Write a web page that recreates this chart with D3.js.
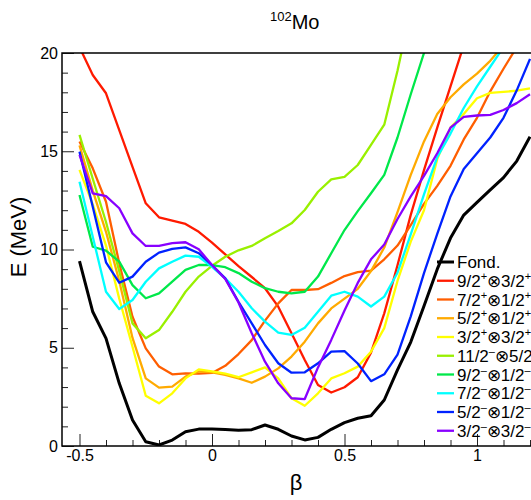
<!DOCTYPE html>
<html><head><meta charset="utf-8">
<script src="https://cdn.jsdelivr.net/npm/d3@7"></script>
<style>html,body{margin:0;padding:0;background:#fff;}svg{display:block;font-family:"Liberation Sans",Arial,sans-serif;}</style>
</head><body>
<script>
// ---- data ----
const beta = [-0.5,-0.45,-0.4,-0.35,-0.3,-0.25,-0.2,-0.15,-0.1,-0.05,0,0.05,0.1,0.15,0.2,0.25,0.3,0.35,0.4,0.45,0.5,0.55,0.6,0.65,0.7,0.75,0.8,0.85,0.9,0.95,1.0,1.05,1.1,1.15,1.2];
const fond = [9.41,6.83,5.48,3.19,1.32,0.22,0.05,0.30,0.73,0.86,0.86,0.84,0.80,0.83,1.07,0.85,0.51,0.31,0.44,0.85,1.19,1.41,1.54,2.34,3.87,5.29,7.13,9.00,10.58,11.75,12.40,13.03,13.66,14.50,15.74];
const e92p32p = [20.3,18.88,17.95,16.08,14.21,12.35,11.64,11.47,11.30,10.90,10.35,9.75,9.15,8.60,8.03,7.09,5.74,4.38,3.10,2.72,2.99,3.50,4.75,6.75,9.20,11.76,14.04,16.20,18.30,20.40];
const e72p12p = [15.50,14.13,12.43,9.30,6.58,4.97,4.04,3.65,3.70,3.68,3.72,4.08,4.68,5.39,6.38,7.26,7.94,7.94,7.98,8.30,8.65,8.85,8.92,9.50,10.20,11.24,12.32,13.24,14.26,15.60,16.70,18.05,19.20,20.30];
const e52p12p = [15.30,13.00,10.90,8.40,5.50,3.44,2.97,3.02,3.53,3.80,3.75,3.62,3.44,3.22,3.53,3.95,4.55,5.31,6.24,7.00,7.50,8.00,8.90,10.10,11.90,13.80,15.50,16.90,17.75,18.40,18.95,19.60,20.40];
const e32p32p = [14.05,12.30,10.20,7.50,5.05,2.56,2.17,2.68,3.44,3.90,3.80,3.68,3.50,3.75,4.00,3.44,2.43,2.05,2.68,3.44,3.70,4.04,4.80,6.00,8.40,10.40,12.00,14.60,16.20,16.90,17.70,17.97,18.02,18.08,18.20];
const e112m52m = [15.83,13.60,11.40,8.90,6.24,5.48,5.90,6.83,7.85,8.62,9.17,9.63,9.96,10.18,10.57,10.94,11.33,12.01,12.94,13.57,13.70,14.30,15.32,16.35,19.10,22.20];
const e92m12m = [12.77,10.14,9.94,9.38,8.19,7.52,7.77,8.36,8.96,9.21,9.21,9.10,8.80,8.36,8.03,7.85,7.77,7.85,8.62,9.81,10.99,11.95,12.86,13.80,15.70,17.90,20.00,22.00];
const e72m12m = [13.45,10.65,7.85,6.97,7.43,8.36,9.04,9.38,9.69,9.63,9.12,8.53,7.85,7.01,6.33,5.77,5.65,6.02,6.83,7.65,7.85,7.60,7.10,7.60,8.82,10.77,12.80,14.70,15.90,17.20,18.30,19.30,20.30];
const e52m12m = [14.98,12.18,9.35,8.31,8.62,9.38,9.84,10.03,10.11,9.81,9.21,8.53,7.34,6.24,5.14,4.21,3.73,3.75,4.21,4.80,4.83,4.20,3.30,3.65,4.65,6.60,8.80,10.80,12.70,14.10,14.90,15.70,16.70,18.10,19.70];
const e32m32m = [14.81,12.86,12.72,12.10,10.82,10.18,10.18,10.32,10.37,10.01,9.21,8.50,7.30,5.74,4.29,3.19,2.43,2.39,4.00,5.40,6.90,8.30,9.50,10.25,11.55,12.70,13.75,14.90,16.20,16.75,16.82,16.85,17.10,17.45,17.90];

const seriesValues = [fond,e92p32p,e72p12p,e52p12p,e32p32p,e112m52m,e92m12m,e72m12m,e52m12m,e32m32m];
const seriesColors = ["#000000","#ff1a00","#ff5e00","#ffaa00","#ffff00","#99f000","#00e84a","#00ffff","#0022ff","#8800ff"];
// legend labels: [j1, parity1, j2, parity2]; first entry is plain text
const legendLabels = [["Fond."],["9/2","+","3/2","+"],["7/2","+","1/2","+"],["5/2","+","1/2","+"],["3/2","+","3/2","+"],["11/2","-","5/2","-"],["9/2","-","1/2","-"],["7/2","-","1/2","-"],["5/2","-","1/2","-"],["3/2","-","3/2","-"]];
const xMajorTicks = [-0.5,0,0.5,1];
const xMinorTicks = [-0.4,-0.3,-0.2,-0.1,0.1,0.2,0.3,0.4,0.6,0.7,0.8,0.9,1.1,1.2];
const yMajorTicks = [0,5,10,15,20];
const yMinorTicks = [1,2,3,4,6,7,8,9,11,12,13,14,16,17,18,19];

// ---- layout ----
const W = 531, H = 500;
const L = 62, T = 53, B = 446, R = 560;
const x = d3.scaleLinear().domain([-0.5, 1]).range([79.5, 477]);
const y = d3.scaleLinear().domain([0, 20]).range([B, T]);

const svg = d3.select("body").append("svg").attr("width", W).attr("height", H);
svg.append("rect").attr("width", W).attr("height", H).attr("fill", "#fff");

svg.append("defs").append("clipPath").attr("id", "clip")
  .append("rect").attr("x", L).attr("y", T).attr("width", R - L).attr("height", B - T);

// axes
const gx = svg.append("g").attr("transform", `translate(0,${B})`)
  .call(d3.axisBottom(x).tickValues(xMajorTicks).tickSizeInner(-12).tickSizeOuter(0).tickPadding(4)
    .tickFormat(d => String(d)));
const gxm = svg.append("g").attr("transform", `translate(0,${B})`)
  .call(d3.axisBottom(x).tickValues(xMinorTicks).tickSizeInner(-6).tickSizeOuter(0).tickFormat(""));
const gy = svg.append("g").attr("transform", `translate(${L},0)`)
  .call(d3.axisLeft(y).tickValues(yMajorTicks).tickSizeInner(-12).tickSizeOuter(0).tickPadding(4)
    .tickFormat(d => String(d)));
const gym = svg.append("g").attr("transform", `translate(${L},0)`)
  .call(d3.axisLeft(y).tickValues(yMinorTicks).tickSizeInner(-6).tickSizeOuter(0).tickFormat(""));
[gx, gxm, gy, gym].forEach(g => {
  g.select(".domain").remove();
  g.selectAll(".tick line").attr("stroke", "#222").attr("stroke-width", 1);
  g.selectAll("text").attr("font-size", 16).attr("fill", "#000")
    .attr("font-family", "'Liberation Sans', Arial, sans-serif");
});

// curves
const line = d3.line().x((d, i) => x(beta[i])).y(d => y(d));
const gc = svg.append("g").attr("clip-path", "url(#clip)");
seriesValues.forEach((vals, k) => {
  gc.append("path").datum(vals)
    .attr("d", line)
    .attr("fill", "none")
    .attr("stroke", seriesColors[k])
    .attr("stroke-width", k === 0 ? 3 : 2.3)
    .attr("stroke-linejoin", "round");
});

// frame
svg.append("rect").attr("x", L).attr("y", T).attr("width", R - L).attr("height", B - T)
  .attr("fill", "none").attr("stroke", "#000").attr("stroke-width", 1.5);

// legend
const lg = svg.append("g");
legendLabels.forEach((lab, i) => {
  const yy = 262 + i * 18.75;
  lg.append("line").attr("x1", 437).attr("x2", 454).attr("y1", yy).attr("y2", yy)
    .attr("stroke", seriesColors[i]).attr("stroke-width", i === 0 ? 3 : 2.3);
  const t = lg.append("text").attr("x", 457).attr("y", yy + 6).attr("font-size", 17).attr("fill", "#000");
  if (lab.length === 1) { t.text(lab[0]); return; }
  t.append("tspan").text(lab[0]);
  t.append("tspan").attr("font-size", 11).attr("dy", -7).text(lab[1] === "-" ? "\u2013" : "+");
  t.append("tspan").attr("dy", 7).text("\u2297" + lab[2]);
  t.append("tspan").attr("font-size", 11).attr("dy", -7).text(lab[3] === "-" ? "\u2013" : "+");
});

// title
const title = svg.append("text").attr("x", 270).attr("y", 29).attr("fill", "#000");
title.append("tspan").attr("font-size", 13).attr("dy", -8).text("102");
title.append("tspan").attr("font-size", 20).attr("dy", 8).text("Mo");

// axis titles
svg.append("text").attr("transform", "translate(26,237) rotate(-90)")
  .attr("text-anchor", "middle").attr("font-size", 22).text("E (MeV)");
svg.append("text").attr("x", 296).attr("y", 490).attr("text-anchor", "middle")
  .attr("font-size", 22).text("\u03b2");
</script>
</body></html>
